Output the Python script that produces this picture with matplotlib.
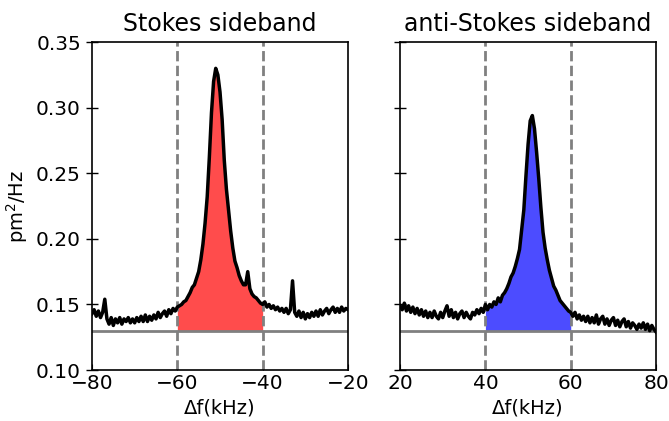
import numpy as np
import matplotlib
matplotlib.use("Agg")
import matplotlib.pyplot as plt

# Stokes sideband (left panel), frequency offset in kHz, spectral density in pm^2/Hz
stokes_f = np.arange(-80.0, -19.99, 0.5)
stokes_psd = [
    0.143, 0.146, 0.141, 0.145, 0.140, 0.144, 0.154, 0.139, 0.135, 0.140,
    0.134, 0.139, 0.136, 0.140, 0.135, 0.139, 0.137, 0.140, 0.136, 0.139,
    0.136, 0.140, 0.137, 0.141, 0.137, 0.142, 0.137, 0.141, 0.138, 0.142,
    0.139, 0.144, 0.140, 0.143, 0.145, 0.141, 0.146, 0.143, 0.147, 0.145,
    0.148, 0.149, 0.150, 0.152, 0.153, 0.156, 0.159, 0.163, 0.165, 0.170,
    0.175, 0.184, 0.196, 0.212, 0.232, 0.262, 0.296, 0.320, 0.330, 0.325,
    0.312, 0.291, 0.260, 0.238, 0.222, 0.206, 0.193, 0.183, 0.178, 0.172,
    0.168, 0.165, 0.165, 0.175, 0.162, 0.158, 0.156, 0.155, 0.153, 0.151,
    0.150, 0.152, 0.148, 0.150, 0.147, 0.149, 0.146, 0.148, 0.145, 0.147,
    0.144, 0.147, 0.143, 0.146, 0.168, 0.144, 0.141, 0.145, 0.140, 0.144,
    0.139, 0.143, 0.140, 0.144, 0.141, 0.145, 0.141, 0.146, 0.142, 0.145,
    0.147, 0.143, 0.146, 0.148, 0.144, 0.147, 0.144, 0.148, 0.145, 0.147,
    0.146,
]

# anti-Stokes sideband (right panel)
anti_f = np.arange(20.0, 80.01, 0.5)
anti_psd = [
    0.149, 0.146, 0.151, 0.145, 0.149, 0.144, 0.148, 0.143, 0.147, 0.142,
    0.146, 0.141, 0.145, 0.140, 0.144, 0.140, 0.145, 0.141, 0.139, 0.144,
    0.140, 0.145, 0.149, 0.141, 0.146, 0.140, 0.144, 0.139, 0.143, 0.145,
    0.140, 0.144, 0.141, 0.139, 0.144, 0.142, 0.146, 0.143, 0.147, 0.144,
    0.150, 0.146, 0.150, 0.148, 0.152, 0.150, 0.155, 0.152, 0.157, 0.159,
    0.162, 0.166, 0.171, 0.174, 0.179, 0.185, 0.192, 0.207, 0.222, 0.248,
    0.272, 0.290, 0.294, 0.284, 0.266, 0.246, 0.224, 0.205, 0.193, 0.184,
    0.176, 0.170, 0.164, 0.161, 0.157, 0.153, 0.151, 0.149, 0.147, 0.145,
    0.144, 0.141, 0.144, 0.139, 0.142, 0.138, 0.141, 0.137, 0.141, 0.136,
    0.140, 0.136, 0.142, 0.135, 0.139, 0.141, 0.135, 0.139, 0.134, 0.138,
    0.140, 0.134, 0.138, 0.133, 0.137, 0.139, 0.133, 0.137, 0.132, 0.136,
    0.134, 0.131, 0.135, 0.132, 0.136, 0.131, 0.135, 0.130, 0.134, 0.131,
    0.129,
]

background = 0.13
stokes_band = (-60, -40)
anti_band = (40, 60)

fig = plt.figure(figsize=(6.69, 4.21), dpi=100)
ax1 = fig.add_axes([0.1375, 0.121, 0.3827, 0.779])
ax2 = fig.add_axes([0.598, 0.121, 0.3827, 0.779], sharey=ax1)

panels = [
    (ax1, stokes_f, stokes_psd, stokes_band, 'red', 'Stokes sideband', (-80, -20)),
    (ax2, anti_f, anti_psd, anti_band, 'blue', 'anti-Stokes sideband', (20, 80)),
]

for ax, f, psd, band, col, title, xlim in panels:
    f = np.asarray(f)
    psd = np.asarray(psd)
    mask = (f >= band[0]) & (f <= band[1])
    ax.fill_between(f, background, psd, where=mask, color=col, alpha=0.7,
                    linewidth=0, zorder=1)
    ax.axhline(background, color='gray', lw=2, zorder=2)
    for b in band:
        ax.axvline(b, color='gray', lw=2, ls='--', zorder=2)
    ax.plot(f, psd, color='black', lw=2.5, zorder=3)
    ax.set_xlim(*xlim)
    ax.set_xticks(np.arange(xlim[0], xlim[1] + 1, 20))
    ax.set_title(title, fontsize=17, pad=8)
    ax.set_xlabel('Δf(kHz)', fontsize=14)
    ax.tick_params(axis='x', direction='in', labelsize=14.5, length=4, pad=3)
    ax.tick_params(axis='y', direction='inout', labelsize=14.5, length=9, width=1)
    for s in ax.spines.values():
        s.set_linewidth(1.2)

ax1.set_ylim(0.10, 0.35)
ax1.set_yticks([0.10, 0.15, 0.20, 0.25, 0.30, 0.35])
ax1.set_ylabel('pm$^2$/Hz', fontsize=14)
plt.setp(ax2.get_yticklabels(), visible=False)

fig.savefig('out.png', dpi=100)
